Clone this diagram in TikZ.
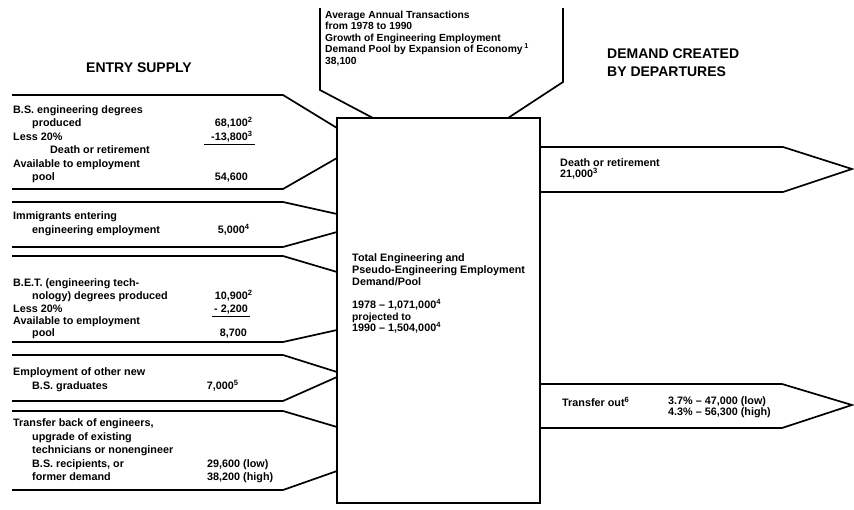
\documentclass[tikz,border=0pt]{standalone}
\usepackage{fontspec}
\setmainfont{Liberation Sans}
\begin{document}
\begin{tikzpicture}[x=1pt,y=-1pt,
  outline/.style={line width=1.7pt, line join=miter, line cap=butt},
  rule/.style={line width=1.1pt},
  txt/.style={anchor=base west, inner sep=0pt, font=\fontsize{10.8}{13}\selectfont\bfseries},
  small/.style={anchor=base west, inner sep=0pt, font=\fontsize{10.3}{12}\selectfont\bfseries},
  num/.style={anchor=base east, inner sep=0pt, font=\fontsize{10.8}{13}\selectfont\bfseries},
  head/.style={anchor=base west, inner sep=0pt, font=\fontsize{14}{17}\selectfont\bfseries}
]
\useasboundingbox (0,0) rectangle (854,509);

% central pool box
\draw[outline] (337,503) -- (337,118) -- (540,118) -- (540,503) -- cycle;
\coordinate (poolNW) at (337,118);
% top funnel
\draw[outline] (320,8) -- (320,90) -- (373,118);
\draw[outline] (563,8) -- (563,82) -- (508,118);

% left arrows
\draw[outline] (12,95) -- (283,95) -- (337,128);
\draw[outline] (12,189) -- (283,189) -- (337,158);
\draw[outline] (12,202) -- (283,202) -- (337,214);
\draw[outline] (12,247) -- (283,247) -- (337,232);
\draw[outline] (12,256) -- (283,256) -- (337,272);
\draw[outline] (12,342) -- (283,342) -- (337,330);
\draw[outline] (12,355) -- (283,355) -- (337,372);
\draw[outline] (12,401) -- (283,401) -- (337,377);
\draw[outline] (12,411) -- (283,411) -- (337,427);
\draw[outline] (12,490) -- (283,490) -- (337,471);

% right arrows
\draw[outline] (540,147) -- (783,147) -- (852,169) -- (783,192) -- (540,192);
\draw[outline] (540,384) -- (782,384) -- (852,405) -- (782,428) -- (540,428);

% headings
\node[head] (entry) at (86,72) {ENTRY SUPPLY};
\node[head] (dem1) at (607,58) {DEMAND CREATED};
\node[head] (dem2) at (607,76) {BY DEPARTURES};

% funnel text
\node[small] (f1) at (325,18) {Average Annual Transactions};
\node[small] (f2) at (325,29.5) {from 1978 to 1990};
\node[small] (f3) at (325,41) {Growth of Engineering Employment};
\node[small] (f4) at (325,52.5) {Demand Pool by Expansion of Economy\,\textsuperscript{1}};
\node[small] (f5) at (325,64) {38,100};

% arrow 1
\node[txt] (a1l1) at (13,113) {B.S. engineering degrees};
\node[txt] (a1l2) at (32,126.5) {produced};
\node[txt] (a1l3) at (13,140) {Less 20\%};
\node[txt] (a1l4) at (50,153.5) {Death or retirement};
\node[txt] (a1l5) at (13,167) {Available to employment};
\node[txt] (a1l6) at (32,180.5) {pool};
\node[num] (a1n1) at (248,126.5) {68,100\rlap{\textsuperscript{2}}};
\node[num] (a1n2) at (248,140) {-13,800\rlap{\textsuperscript{3}}};
\draw[rule] (204,144.5) -- (255,144.5);
\node[num] (a1n3) at (248,180.5) {54,600};

% arrow 2
\node[txt] (a2l1) at (13,219.5) {Immigrants entering};
\node[txt] (a2l2) at (32,233) {engineering employment};
\node[num] (a2n1) at (245,233) {5,000\rlap{\textsuperscript{4}}};

% arrow 3
\node[txt] (a3l1) at (13,286.5) {B.E.T. (engineering tech-};
\node[txt] (a3l2) at (32,299.5) {nology) degrees produced};
\node[txt] (a3l3) at (13,312) {Less 20\%};
\node[txt] (a3l4) at (13,324.5) {Available to employment};
\node[txt] (a3l5) at (32,336.5) {pool};
\node[num] (a3n1) at (248,299.5) {10,900\rlap{\textsuperscript{2}}};
\node[num] (a3n2) at (248,312) {- 2,200};
\draw[rule] (212,316.5) -- (250,316.5);
\node[num] (a3n3) at (247,336.5) {8,700};

% arrow 4
\node[txt] (a4l1) at (13,375.5) {Employment of other new};
\node[txt] (a4l2) at (32,389) {B.S. graduates};
\node[num] (a4n1) at (234,389) {7,000\rlap{\textsuperscript{5}}};

% arrow 5
\node[txt] (a5l1) at (13,426.5) {Transfer back of engineers,};
\node[txt] (a5l2) at (32,440) {upgrade of existing};
\node[txt] (a5l3) at (32,453.5) {technicians or nonengineer};
\node[txt] (a5l4) at (32,467) {B.S. recipients, or};
\node[txt] (a5l5) at (32,480.5) {former demand};
\node[txt] (a5n1) at (207,467) {29,600 (low)};
\node[txt] (a5n2) at (207,480.5) {38,200 (high)};

% pool text
\node[txt] (p1) at (352,261.5) {Total Engineering and};
\node[txt] (p2) at (352,273.5) {Pseudo-Engineering Employment};
\node[txt] (p3) at (352,285.5) {Demand/Pool};
\node[txt] (p4) at (352,308.5) {1978 – 1,071,000\textsuperscript{4}};
\node[small] (p5) at (352,320) {projected to};
\node[txt] (p6) at (352,331) {1990 – 1,504,000\textsuperscript{4}};

% departures
\node[txt] (d1) at (560,166.5) {Death or retirement};
\node[txt] (d2) at (560,177.5) {21,000\textsuperscript{3}};
\node[txt] (t1) at (562,406) {Transfer out\textsuperscript{6}};
\node[txt] (t2) at (668,404) {3.7\% – 47,000 (low)};
\node[txt] (t3) at (668,415.5) {4.3\% – 56,300 (high)};
\end{tikzpicture}
\end{document}
